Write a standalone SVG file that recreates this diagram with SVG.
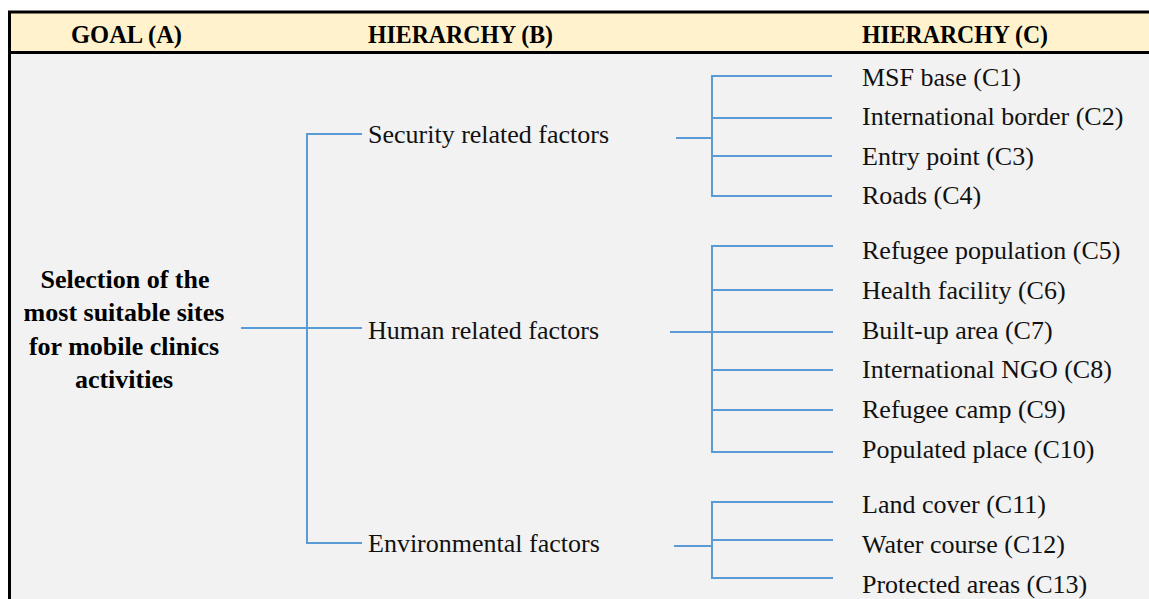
<svg xmlns="http://www.w3.org/2000/svg" width="1149" height="599" viewBox="0 0 1149 599">
<style>
.hdr{font-family:'Liberation Serif','Times New Roman',Tinos,'DejaVu Serif',serif;font-weight:bold;font-size:25px;fill:#000}
.goal{font-family:'Liberation Serif','Times New Roman',Tinos,'DejaVu Serif',serif;font-weight:bold;font-size:26px;fill:#000;text-anchor:middle}
.lbl{font-family:'Liberation Serif','Times New Roman',Tinos,'DejaVu Serif',serif;font-size:26px;fill:#111}
.con{stroke:#5B9BD5;stroke-width:2;fill:none}
</style>
<rect x="0" y="0" width="1149" height="599" fill="#FFFFFF"/>
<rect x="9.5" y="12" width="1140" height="40" fill="#FFF2CC"/>
<rect x="9.5" y="53" width="1140" height="546" fill="#F2F2F2"/>
<g id="frame" stroke="#000" stroke-width="3" fill="none">
<line x1="8" y1="12" x2="1149" y2="12"/>
<line x1="9.5" y1="12" x2="9.5" y2="599"/>
<line x1="8" y1="52.5" x2="1149" y2="52.5"/>
</g>
<g id="header">
<text class="hdr" x="71" y="43" textLength="111" lengthAdjust="spacingAndGlyphs">GOAL (A)</text>
<text class="hdr" x="368" y="43" textLength="185" lengthAdjust="spacingAndGlyphs">HIERARCHY (B)</text>
<text class="hdr" x="862" y="43" textLength="186" lengthAdjust="spacingAndGlyphs">HIERARCHY (C)</text>
</g>
<g id="connectors" class="con">
<path d="M241 328H307"/>
<path d="M307 134V544"/>
<path d="M306 134H362M307 328H362M306 543H362"/>
<path d="M676 138H712M712 76V196M711 76H832M712 118H832M712 156H832M711 196H832"/>
<path d="M670 332H712M712 246V452M711 246H833M712 290H833M712 332H833M712 370H833M712 410H833M711 452H833"/>
<path d="M674 546H712M712 502V578M711 502H833M712 540H833M711 578H833"/>
</g>
<g id="goal">
<text class="goal" x="125" y="288">Selection of the</text>
<text class="goal" x="124" y="321">most suitable sites</text>
<text class="goal" x="124" y="355">for mobile clinics</text>
<text class="goal" x="124" y="388">activities</text>
</g>
<g id="b1"><text class="lbl" x="368" y="143">Security related factors</text></g>
<g id="b2"><text class="lbl" x="368" y="339">Human related factors</text></g>
<g id="b3"><text class="lbl" x="368" y="552">Environmental factors</text></g>
<g id="c1"><text class="lbl" x="862" y="86">MSF base (C1)</text></g>
<g id="c2"><text class="lbl" x="862" y="125">International border (C2)</text></g>
<g id="c3"><text class="lbl" x="862" y="165">Entry point (C3)</text></g>
<g id="c4"><text class="lbl" x="862" y="204">Roads (C4)</text></g>
<g id="c5"><text class="lbl" x="862" y="259">Refugee population (C5)</text></g>
<g id="c6"><text class="lbl" x="862" y="299">Health facility (C6)</text></g>
<g id="c7"><text class="lbl" x="862" y="339">Built-up area (C7)</text></g>
<g id="c8"><text class="lbl" x="862" y="378">International NGO (C8)</text></g>
<g id="c9"><text class="lbl" x="862" y="418">Refugee camp (C9)</text></g>
<g id="c10"><text class="lbl" x="862" y="458">Populated place (C10)</text></g>
<g id="c11"><text class="lbl" x="862" y="513">Land cover (C11)</text></g>
<g id="c12"><text class="lbl" x="862" y="553">Water course (C12)</text></g>
<g id="c13"><text class="lbl" x="862" y="593">Protected areas (C13)</text></g>
</svg>
